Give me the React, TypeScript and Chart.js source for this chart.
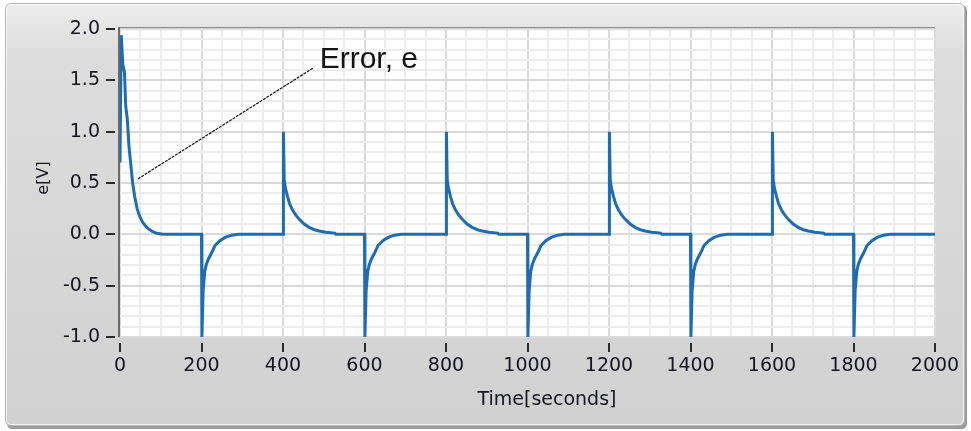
import React, { useEffect, useRef } from 'react';
import { Chart, registerables } from 'chart.js';

Chart.register(...registerables);

// Axis ranges and grid spacing
const X_MIN = 0;
const X_MAX = 2000;
const X_MINOR = 50;
const X_MAJOR = 200;
const Y_MIN = -1;
const Y_MAX = 2;
const Y_MINOR = 0.1;
const Y_MAJOR = 0.5;

// Start-up transient of the error signal (time [s], e [V])
const startTimes = [0, 3, 7, 11, 14, 18, 22, 26, 31, 36, 42, 48, 55, 65, 78, 90, 105];
const startErrors = [0.7, 1.94, 1.65, 1.58, 1.25, 1.12, 0.86, 0.7, 0.5, 0.37, 0.25, 0.18, 0.12, 0.07, 0.03, 0.01, 0];

// Set-point steps down: error kicks to -1 V and settles back
const fallTimes = [200, 600, 1000, 1400, 1800];
const fallDt = [0, 1, 4, 8, 12, 17, 25, 33, 45, 58, 74, 90];
const fallErrors = [0, -1.0, -0.55, -0.36, -0.29, -0.24, -0.18, -0.11, -0.063, -0.03, -0.008, 0];

// Set-point steps up: error kicks to +1 V and settles back
const riseTimes = [400, 800, 1200, 1600];
const riseDt = [0, 1, 3, 6, 11, 16, 23, 31, 40, 52, 64, 77, 89, 105, 127, 130];
const riseErrors = [0, 1.0, 0.53, 0.45, 0.37, 0.3, 0.24, 0.19, 0.146, 0.1, 0.068, 0.045, 0.032, 0.02, 0.012, 0];

const X_TITLE = 'Time[seconds]';
const Y_TITLE = 'e[V]';
const NOTE_TEXT = 'Error, e';
// Callout: leader line from the curve to the label, in data units
const noteFrom = { x: 44, y: 0.54 };
const noteTo = { x: 474, y: 1.62 };
const noteLabelAt = { x: 490, y: 1.62 };

const FONT = '"DejaVu Sans", Verdana, sans-serif';
const NOTE_FONT = '"Liberation Sans", Arial, sans-serif';
const TEXT_COLOR = '#15151f';
const LINE_BLUE = '#1e6db3';

const isMultiple = (v: number, step: number) => Math.abs(v / step - Math.round(v / step)) < 1e-6;

function buildSeries() {
  const pts: { x: number; y: number }[] = [];
  startTimes.forEach((t, i) => pts.push({ x: t, y: startErrors[i] }));
  const events = [
    ...fallTimes.map((s) => ({ s, dt: fallDt, e: fallErrors })),
    ...riseTimes.map((s) => ({ s, dt: riseDt, e: riseErrors })),
  ].sort((a, b) => a.s - b.s);
  events.forEach(({ s, dt, e }) => dt.forEach((d, i) => pts.push({ x: s + d, y: e[i] })));
  pts.push({ x: X_MAX, y: 0 });
  return pts;
}

function roundRect(ctx: CanvasRenderingContext2D, x: number, y: number, w: number, h: number, r: number) {
  ctx.beginPath();
  ctx.moveTo(x + r, y);
  ctx.lineTo(x + w - r, y);
  ctx.quadraticCurveTo(x + w, y, x + w, y + r);
  ctx.lineTo(x + w, y + h - r);
  ctx.quadraticCurveTo(x + w, y + h, x + w - r, y + h);
  ctx.lineTo(x + r, y + h);
  ctx.quadraticCurveTo(x, y + h, x, y + h - r);
  ctx.lineTo(x, y + r);
  ctx.quadraticCurveTo(x, y, x + r, y);
  ctx.closePath();
}

const panelPlugin = {
  id: 'panel',
  beforeDraw(chart: any) {
    const { ctx, chartArea: a, width, height } = chart;
    ctx.save();
    ctx.fillStyle = '#ffffff';
    ctx.fillRect(0, 0, width, height);
    // drop shadow of the panel
    roundRect(ctx, 7, 5, 960, 424, 6);
    ctx.fillStyle = '#9c9c9c';
    ctx.fill();
    const g = ctx.createLinearGradient(0, 4, 0, 426);
    g.addColorStop(0, '#ededed');
    g.addColorStop(0.12, '#dddddd');
    g.addColorStop(1, '#d1d1d1');
    roundRect(ctx, 5.5, 3.5, 959, 422, 6);
    ctx.fillStyle = g;
    ctx.fill();
    ctx.strokeStyle = '#b4b4b4';
    ctx.lineWidth = 1;
    ctx.stroke();
    roundRect(ctx, 6.5, 4.5, 957, 420, 5);
    ctx.strokeStyle = 'rgba(255,255,255,0.7)';
    ctx.stroke();
    // plot background
    ctx.fillStyle = '#ffffff';
    ctx.fillRect(a.left, a.top, a.right - a.left, a.bottom - a.top);
    ctx.restore();
  },
  afterDraw(chart: any) {
    const { ctx, chartArea: a, scales } = chart;
    const xs = scales.x;
    const ys = scales.y;
    ctx.save();
    // inset border of the plot area
    ctx.fillStyle = '#8a8a8a';
    ctx.fillRect(a.left - 2, a.top - 2, a.right - a.left + 2, 1);
    ctx.fillStyle = '#6a6a6a';
    ctx.fillRect(a.left - 2, a.top - 2, 2, a.bottom - a.top + 2);

    // major tick marks, set off from the axes
    ctx.fillStyle = '#2a2a2a';
    for (let v = Y_MIN; v <= Y_MAX + 1e-9; v += Y_MAJOR) {
      const py = Math.round(ys.getPixelForValue(v));
      ctx.fillRect(a.left - 14, py - 1, 9, 2);
    }
    for (let t = X_MIN; t <= X_MAX; t += X_MAJOR) {
      const px = Math.round(xs.getPixelForValue(t));
      ctx.fillRect(px - 1, a.bottom + 6, 2, 9);
    }

    // axis titles
    ctx.fillStyle = TEXT_COLOR;
    ctx.font = `19px ${FONT}`;
    ctx.textAlign = 'center';
    ctx.textBaseline = 'alphabetic';
    ctx.fillText(X_TITLE, 547, 405);
    ctx.save();
    ctx.translate(48, 178);
    ctx.rotate(-Math.PI / 2);
    ctx.font = `16px ${FONT}`;
    ctx.fillText(Y_TITLE, 0, 0);
    ctx.restore();

    // callout
    const x0 = xs.getPixelForValue(noteFrom.x);
    const y0 = ys.getPixelForValue(noteFrom.y);
    const x1 = xs.getPixelForValue(noteTo.x);
    const y1 = ys.getPixelForValue(noteTo.y);
    ctx.strokeStyle = '#111111';
    ctx.lineWidth = 1.2;
    ctx.setLineDash([3, 1]);
    ctx.beginPath();
    ctx.moveTo(x0, y0);
    ctx.lineTo(x1, y1);
    ctx.stroke();
    ctx.setLineDash([]);
    ctx.font = `30px ${NOTE_FONT}`;
    ctx.textAlign = 'left';
    ctx.fillStyle = '#141414';
    ctx.fillText(NOTE_TEXT, xs.getPixelForValue(noteLabelAt.x), ys.getPixelForValue(noteLabelAt.y));
    ctx.restore();
  },
};

export default function App() {
  const canvasRef = useRef<HTMLCanvasElement | null>(null);

  useEffect(() => {
    document.body.style.margin = '0';
    const canvas = canvasRef.current;
    if (!canvas) return;
    const chart = new Chart(canvas, {
      type: 'line',
      data: {
        datasets: [
          {
            label: 'e',
            data: buildSeries(),
            borderColor: LINE_BLUE,
            borderWidth: 3,
            pointRadius: 0,
            tension: 0,
            fill: false,
          },
        ],
      },
      options: {
        responsive: false,
        animation: false,
        devicePixelRatio: 1,
        layout: { padding: { left: 0, top: 29, right: 36, bottom: 0 } },
        plugins: {
          legend: { display: false },
          tooltip: { enabled: false },
        },
        scales: {
          x: {
            type: 'linear',
            min: X_MIN,
            max: X_MAX,
            afterFit: (s: any) => {
              s.height = 94;
              s.paddingLeft = 0;
              s.paddingRight = 0;
            },
            border: { display: false },
            grid: {
              drawTicks: false,
              lineWidth: 2,
              color: (c: any) => (isMultiple(c.tick.value, X_MAJOR) ? '#dadada' : '#ededed'),
            },
            ticks: {
              stepSize: X_MINOR,
              maxTicksLimit: 1000,
              autoSkip: false,
              maxRotation: 0,
              minRotation: 0,
              padding: 18,
              color: TEXT_COLOR,
              font: { family: FONT, size: 19 },
              callback: (v: any) => (isMultiple(Number(v), X_MAJOR) ? String(Math.round(Number(v))) : ''),
            },
          },
          y: {
            type: 'linear',
            min: Y_MIN,
            max: Y_MAX,
            afterFit: (s: any) => {
              s.width = 120;
              s.paddingTop = 0;
              s.paddingBottom = 0;
            },
            border: { display: false },
            grid: {
              drawTicks: false,
              lineWidth: 2,
              color: (c: any) => (isMultiple(c.tick.value, Y_MAJOR) ? '#dadada' : '#ededed'),
            },
            ticks: {
              stepSize: Y_MINOR,
              maxTicksLimit: 1000,
              autoSkip: false,
              padding: 20,
              color: TEXT_COLOR,
              font: { family: FONT, size: 19 },
              callback: (v: any) => (isMultiple(Number(v), Y_MAJOR) ? Number(v).toFixed(1) : ''),
            },
          },
        },
      },
      plugins: [panelPlugin],
    });
    return () => chart.destroy();
  }, []);

  return (
    <div style={{ width: 971, height: 431 }}>
      <canvas ref={canvasRef} width={971} height={431} style={{ display: 'block' }} />
    </div>
  );
}
